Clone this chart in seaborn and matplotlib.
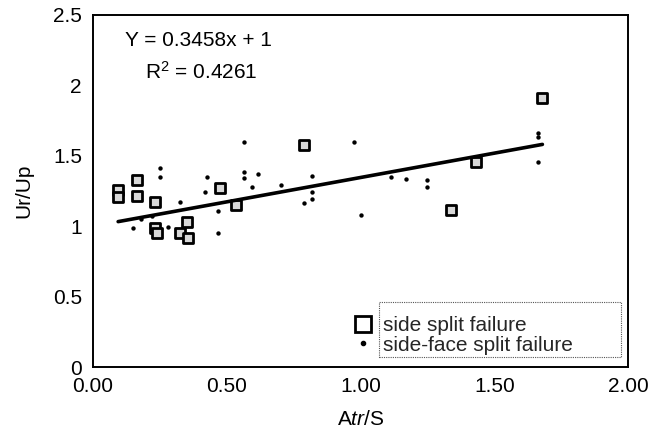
import matplotlib
matplotlib.use("Agg")
import matplotlib.pyplot as plt
import seaborn as sns
import numpy as np
import pandas as pd
from matplotlib.patches import Rectangle
from matplotlib.lines import Line2D

# ---- data ----
side_x = [0.094, 0.094, 0.166, 0.166, 0.233, 0.233, 0.240, 0.350, 0.324, 0.354,
          0.475, 0.535, 0.790, 1.340, 1.430, 1.680]
side_y = [1.257, 1.207, 1.328, 1.214, 1.170, 0.987, 0.950, 1.030, 0.950, 0.916,
          1.270, 1.150, 1.577, 1.115, 1.456, 1.910]

face_x = [0.252, 0.252, 0.324, 0.150, 0.280, 0.180, 0.220, 0.565, 0.426, 0.420,
          0.565, 0.565, 0.615, 0.595, 0.704, 0.790, 0.467, 0.467, 0.976, 0.820,
          0.820, 0.820, 1.000, 1.115, 1.170, 1.250, 1.250, 1.665, 1.665, 1.665]
face_y = [1.410, 1.350, 1.170, 0.990, 0.995, 1.050, 1.070, 1.600, 1.350, 1.240,
          1.385, 1.340, 1.370, 1.280, 1.290, 1.165, 1.110, 0.950, 1.600, 1.360,
          1.240, 1.190, 1.080, 1.350, 1.335, 1.330, 1.280, 1.660, 1.630, 1.455]

slope, intercept = 0.3458, 1.0
eq_text = "Y = 0.3458x + 1"
r2_text = "R$^2$ = 0.4261"
x_ticks = [0.0, 0.5, 1.0, 1.5, 2.0]
x_ticklabels = ["0.00", "0.50", "1.00", "1.50", "2.00"]
y_ticks = [0, 0.5, 1, 1.5, 2, 2.5]
y_ticklabels = ["0", "0.5", "1", "1.5", "2", "2.5"]
labels = ["side split failure", "side-face split failure"]

sns.set_theme(style="white")
plt.rcParams["font.family"] = ["Liberation Sans", "DejaVu Sans"]
plt.rcParams["mathtext.fontset"] = "custom"
plt.rcParams["mathtext.rm"] = "Liberation Sans"
plt.rcParams["mathtext.it"] = "Liberation Sans:italic"

fig = plt.figure(figsize=(6.57, 4.36), dpi=100)
ax = fig.add_axes([93/657, 1 - 367/436, (628-93)/657, (367-15)/436])

df_side = pd.DataFrame({"x": side_x, "y": side_y})
df_face = pd.DataFrame({"x": face_x, "y": face_y})

sns.scatterplot(data=df_side, x="x", y="y", marker="s", s=55, facecolor="#d8d8d8",
                edgecolor="black", linewidth=2.0, ax=ax, zorder=3, legend=False)
sns.scatterplot(data=df_face, x="x", y="y", marker="o", s=10, color="black",
                edgecolor="black", linewidth=0, ax=ax, zorder=3, legend=False)

all_x = np.array(side_x + face_x)
lx = np.array([all_x.min(), all_x.max()])
df_line = pd.DataFrame({"x": lx, "y": slope * lx + intercept})
sns.lineplot(data=df_line, x="x", y="y", color="black", linewidth=2.6, ax=ax, zorder=4)

ax.set_xlim(0, 2.0)
ax.set_ylim(0, 2.5)
ax.set_xticks(x_ticks)
ax.set_xticklabels(x_ticklabels)
ax.set_yticks(y_ticks)
ax.set_yticklabels(y_ticklabels)
ax.tick_params(axis="both", length=0, labelsize=15, colors="black")
ax.tick_params(axis="x", pad=7)
ax.tick_params(axis="y", pad=8)
for sp in ax.spines.values():
    sp.set_color("black")
    sp.set_linewidth(1.4)
    sp.set_visible(True)

ax.set_xlabel("A$\\mathit{tr}$/S", fontsize=15, color="black", labelpad=10)
ax.set_ylabel("Ur/Up", fontsize=15, color="black", labelpad=14)

ax.text((125-93)/535, (367-40)/352, eq_text, transform=ax.transAxes,
        fontsize=15, ha="left", va="center", color="black")
ax.text((145-93)/535, (367-72)/352, r2_text, transform=ax.transAxes,
        fontsize=15, ha="left", va="center", color="black")

# legend: markers to the left of a dotted box
handles = [Line2D([], [], marker="s", linestyle="none", markersize=11,
                  markerfacecolor="white", markeredgecolor="black", markeredgewidth=2),
           Line2D([], [], marker="o", linestyle="none", markersize=3,
                  markerfacecolor="black", markeredgecolor="black")]
leg = ax.legend(handles, labels, loc="lower left", bbox_to_anchor=(0.458, -0.006),
                frameon=False, fontsize=15, handlelength=1.0, handletextpad=0.45,
                labelspacing=0.02, borderpad=0.2)
ax.add_patch(Rectangle(((379-93)/535, (367-357)/352), (621-379)/535, (357-302)/352,
                       transform=ax.transAxes, fill=False, edgecolor="#555555",
                       linestyle=(0, (1, 1)), linewidth=0.8, zorder=5))

fig.savefig("out.png", dpi=100)
